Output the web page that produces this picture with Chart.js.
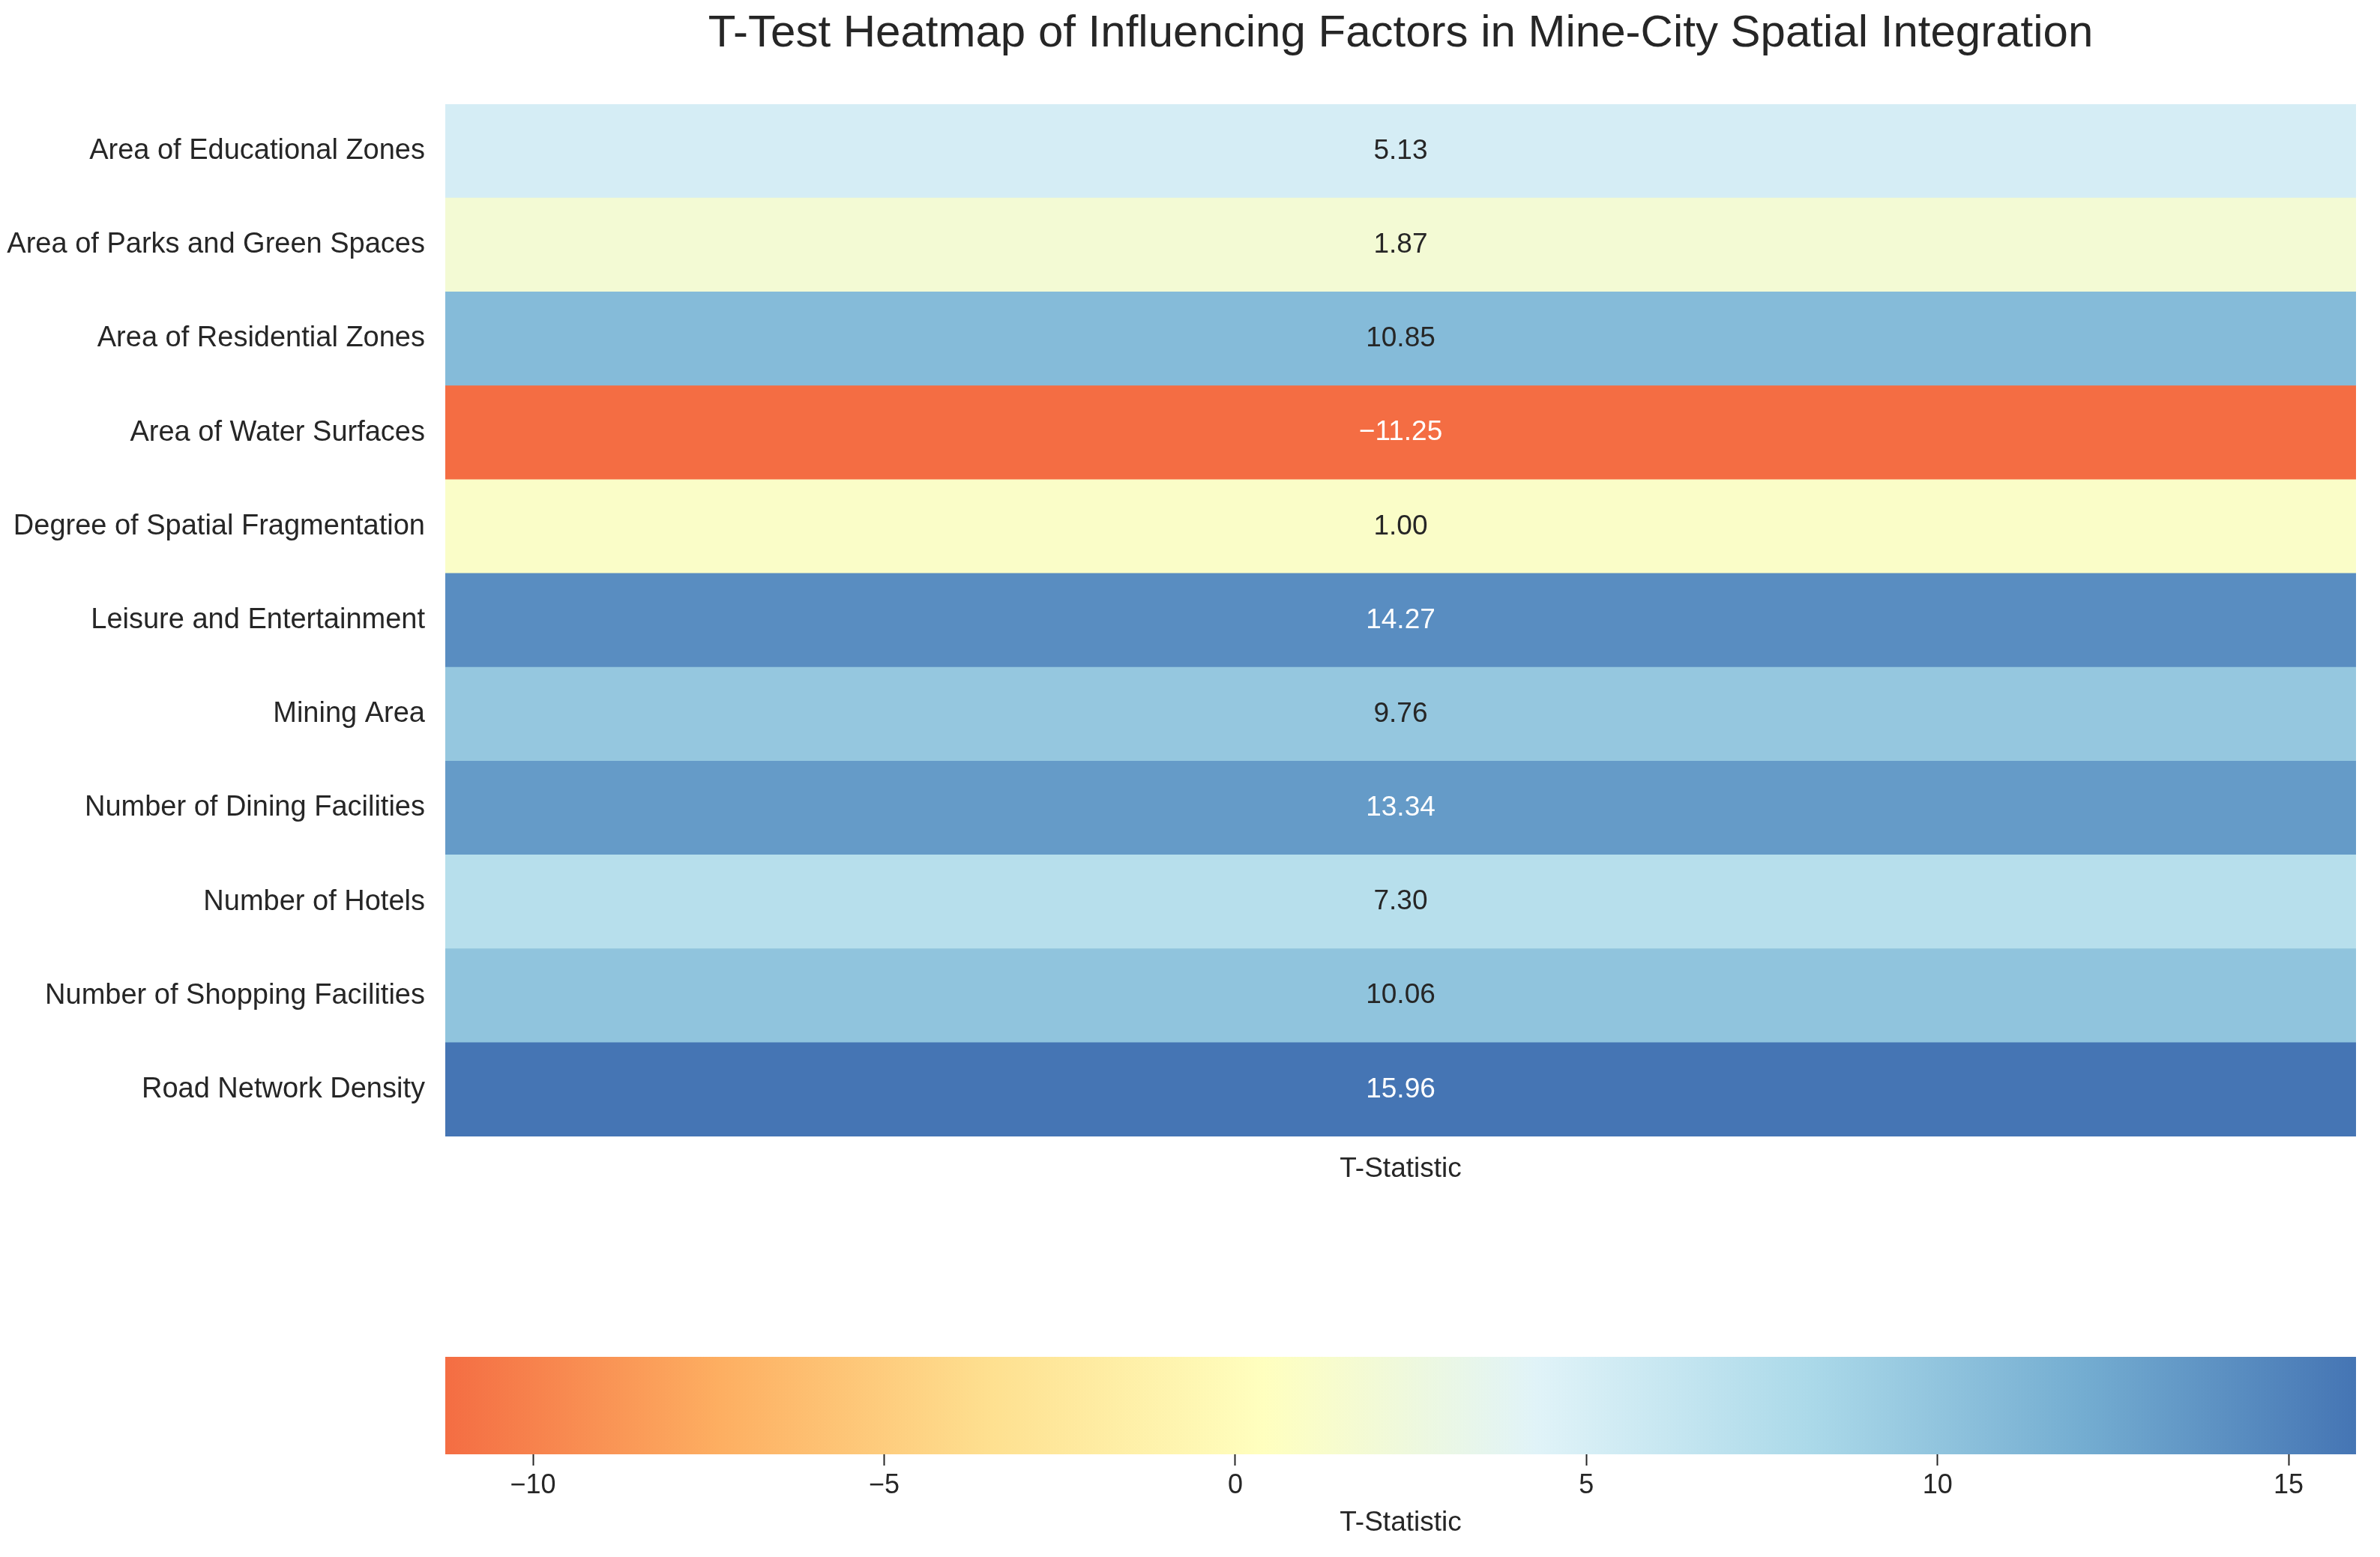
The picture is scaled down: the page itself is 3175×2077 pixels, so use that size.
<!DOCTYPE html>
<html>
<head>
<meta charset="utf-8">
<script src="https://cdn.jsdelivr.net/npm/chart.js@4.4.1/dist/chart.umd.min.js"></script>
<style>
  body { margin: 0; background: #ffffff; }
  #wrap { position: relative; width: 3175px; height: 2077px; overflow: hidden; }
  #titulo {
    position: absolute; left: 594px; width: 2549px; top: 6px;
    text-align: center; font: 60px "Liberation Sans", Arial, sans-serif;
    line-height: 72px; color: #262626; white-space: nowrap;
  }
  #heat { position: absolute; left: 0; top: 0; }
  #barra { position: absolute; left: 0; top: 1760px; }
</style>
</head>
<body>
<div id="wrap">
  <div id="titulo">T-Test Heatmap of Influencing Factors in Mine-City Spatial Integration</div>
  <canvas id="heat" width="3175" height="1600"></canvas>
  <canvas id="barra" width="3175" height="317"></canvas>
</div>
<script>
// datos
const factores = [
    'Area of Educational Zones',
    'Area of Parks and Green Spaces',
    'Area of Residential Zones',
    'Area of Water Surfaces',
    'Degree of Spatial Fragmentation',
    'Leisure and Entertainment',
    'Mining Area',
    'Number of Dining Facilities',
    'Number of Hotels',
    'Number of Shopping Facilities',
    'Road Network Density'
];
const tStats = [5.13, 1.87, 10.85, -11.25, 1.00, 14.27, 9.76, 13.34, 7.30, 10.06, 15.96];
const columna = 'T-Statistic';
const ticksBarra = [-10, -5, 0, 5, 10, 15];
const paleta = ['#f46d43', '#fdae61', '#fee090', '#ffffbf', '#e0f3f8', '#abd9e9', '#74add1', '#4575b4'];
// termina datos

const fuente = '"Liberation Sans", Arial, sans-serif';
const gris = '#262626';
const vmin = Math.min(...tStats);
const vmax = Math.max(...tStats);

function hexRgb(h) {
    return [parseInt(h.slice(1, 3), 16), parseInt(h.slice(3, 5), 16), parseInt(h.slice(5, 7), 16)];
}

function colorDe(v) {
    let t = (v - vmin) / (vmax - vmin);
    t = Math.max(0, Math.min(1, t)) * (paleta.length - 1);
    const i = Math.min(Math.floor(t), paleta.length - 2);
    const f = t - i;
    const a = hexRgb(paleta[i]), b = hexRgb(paleta[i + 1]);
    return a.map((c, k) => Math.round(c + (b[k] - c) * f));
}

function luminancia(rgb) {
    const l = rgb.map(c => {
        c = c / 255;
        return c <= 0.03928 ? c / 12.92 : Math.pow((c + 0.055) / 1.055, 2.4);
    });
    return 0.2126 * l[0] + 0.7152 * l[1] + 0.0722 * l[2];
}

const coloresCeldas = tStats.map(v => 'rgb(' + colorDe(v).join(',') + ')');

// texto de cada celda
const anotaciones = {
    id: 'anotaciones',
    afterDatasetsDraw(chart) {
        const ctx = chart.ctx;
        const meta = chart.getDatasetMeta(0);
        ctx.save();
        ctx.font = '37px ' + fuente;
        ctx.textAlign = 'center';
        ctx.textBaseline = 'middle';
        meta.data.forEach((bar, i) => {
            const v = tStats[i];
            ctx.fillStyle = luminancia(colorDe(v)) > 0.408 ? gris : '#ffffff';
            const txt = (v < 0 ? '\u2212' : '') + Math.abs(v).toFixed(2);
            ctx.fillText(txt, (bar.x + bar.base) / 2, bar.y);
        });
        ctx.restore();
    }
};

new Chart(document.getElementById('heat'), {
    type: 'bar',
    data: {
        labels: factores,
        datasets: [{
            label: columna,
            data: tStats.map(() => [0, 1]),
            backgroundColor: coloresCeldas,
            borderWidth: 0,
            categoryPercentage: 1,
            barPercentage: 1
        }]
    },
    options: {
        indexAxis: 'y',
        responsive: false,
        animation: false,
        layout: { padding: { top: 139, right: 32, left: 0, bottom: 0 } },
        plugins: { legend: { display: false }, tooltip: { enabled: false } },
        scales: {
            x: {
                type: 'linear',
                min: 0,
                max: 1,
                grid: { display: false },
                border: { display: false },
                ticks: { display: false },
                title: {
                    display: true,
                    text: columna,
                    color: gris,
                    font: { family: fuente, size: 37 },
                    padding: { top: 0, bottom: 18 }
                },
                afterFit(scale) { scale.height = 84; }
            },
            y: {
                grid: { display: false },
                border: { display: false },
                ticks: {
                    color: gris,
                    font: { family: fuente, size: 38 },
                    padding: 19
                },
                afterFit(scale) { scale.width = 594; }
            }
        }
    },
    plugins: [anotaciones]
});

// barra de colores
new Chart(document.getElementById('barra'), {
    type: 'bar',
    data: {
        labels: [columna],
        datasets: [{
            data: [[vmin, vmax]],
            backgroundColor(c) {
                const chart = c.chart;
                if (!chart.chartArea) return paleta[0];
                const xs = chart.scales.x;
                const g = chart.ctx.createLinearGradient(xs.getPixelForValue(vmin), 0, xs.getPixelForValue(vmax), 0);
                paleta.forEach((col, i) => g.addColorStop(i / (paleta.length - 1), col));
                return g;
            },
            borderWidth: 0,
            categoryPercentage: 1,
            barPercentage: 1
        }]
    },
    options: {
        indexAxis: 'y',
        responsive: false,
        animation: false,
        layout: { padding: { top: 50, right: 32, left: 594, bottom: 0 } },
        plugins: { legend: { display: false }, tooltip: { enabled: false } },
        scales: {
            x: {
                type: 'linear',
                min: vmin,
                max: vmax,
                afterBuildTicks(scale) { scale.ticks = ticksBarra.map(v => ({ value: v })); },
                grid: {
                    drawOnChartArea: false,
                    drawTicks: true,
                    tickLength: 15,
                    tickColor: gris,
                    tickWidth: 2
                },
                border: { display: false },
                ticks: {
                    color: gris,
                    font: { family: fuente, size: 36 },
                    padding: 5,
                    callback: v => (v < 0 ? '\u2212' : '') + Math.abs(v)
                },
                title: {
                    display: true,
                    text: columna,
                    color: gris,
                    font: { family: fuente, size: 37 },
                    padding: { top: 6, bottom: 23 }
                },
                afterFit(scale) { scale.height = 137; }
            },
            y: { display: false }
        }
    }
});
</script>
</body>
</html>
